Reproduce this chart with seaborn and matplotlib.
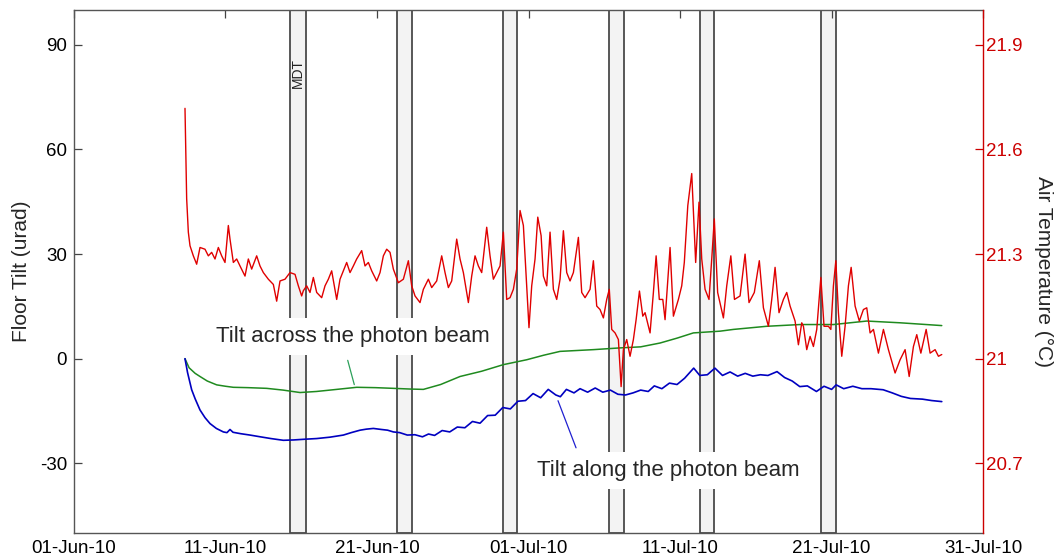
import numpy as np
import pandas as pd
import seaborn as sns
import matplotlib
matplotlib.use("Agg")
import matplotlib.pyplot as plt
import matplotlib.dates as mdates
from matplotlib.ticker import FuncFormatter

# days after 01-Jun-10 00:00
START = pd.Timestamp("2010-06-01")

# air temperature (deg C)
temp_day = [7.33, 7.44, 7.55, 7.66, 7.88, 8.10, 8.32, 8.65, 8.87, 9.09, 9.31, 9.53, 9.75, 9.97,
            10.19, 10.30, 10.52, 10.74, 10.96, 11.29, 11.51, 11.73, 12.06, 12.28, 12.50, 12.83,
            13.16, 13.38, 13.60, 13.93, 14.26, 14.59, 14.81, 15.03, 15.14, 15.36, 15.58, 15.80,
            16.02, 16.35, 16.57, 16.79, 17.01, 17.34, 17.56, 17.78, 18.00, 18.22, 18.44, 18.66,
            18.99, 19.21, 19.43, 19.65, 19.98, 20.20, 20.42, 20.64, 20.86, 21.08, 21.41, 21.74,
            22.07, 22.29, 22.51, 22.84, 23.06, 23.39, 23.61, 23.94, 24.27, 24.49, 24.71, 24.93,
            25.26, 25.48, 25.70, 26.03, 26.25, 26.47, 26.69, 26.91, 27.24, 27.46, 27.68, 27.90,
            28.12, 28.34, 28.56, 28.78, 29.00, 29.22, 29.44, 29.66, 29.88, 30.03, 30.21, 30.43,
            30.61, 30.83, 30.98, 31.20, 31.42, 31.64, 31.86, 32.08, 32.30, 32.52, 32.74, 32.96,
            33.29, 33.51, 33.73, 34.06, 34.28, 34.50, 34.72, 34.94, 35.16, 35.33, 35.49, 35.71,
            35.93, 36.11, 36.26, 36.48, 36.70, 36.92, 37.10, 37.32, 37.54, 37.69, 38.02, 38.24,
            38.42, 38.63, 38.86, 39.01, 39.34, 39.56, 39.89, 40.11, 40.28, 40.51, 40.77, 41.03,
            41.25, 41.43, 41.65, 41.91, 42.09, 42.26, 42.48, 42.86, 43.08, 43.35, 43.59, 43.96,
            44.29, 44.55, 44.90, 45.23, 45.50, 45.83, 46.05, 46.27, 46.53, 46.82, 47.04, 47.26,
            47.59, 47.81, 48.03, 48.14, 48.36, 48.58, 48.80, 49.02, 49.29, 49.50, 49.79, 49.95,
            50.12, 50.28, 50.45, 50.67, 50.89, 51.11, 51.29, 51.55, 51.83, 52.10, 52.32, 52.54,
            52.76, 53.09, 53.42, 53.75, 54.19, 54.52, 54.85, 55.12, 55.40, 55.62, 55.89, 56.24,
            56.50, 56.83, 57.05, 57.27]
temp_c = [21.718, 21.459, 21.363, 21.324, 21.295, 21.271, 21.319, 21.314, 21.295, 21.305, 21.286,
          21.319, 21.295, 21.276, 21.382, 21.343, 21.276, 21.286, 21.266, 21.237, 21.286, 21.257,
          21.295, 21.266, 21.247, 21.228, 21.213, 21.165, 21.223, 21.228, 21.247, 21.242, 21.209,
          21.180, 21.195, 21.209, 21.190, 21.233, 21.190, 21.175, 21.209, 21.228, 21.252, 21.170,
          21.228, 21.252, 21.276, 21.247, 21.266, 21.286, 21.310, 21.266, 21.276, 21.252, 21.223,
          21.247, 21.295, 21.314, 21.305, 21.257, 21.218, 21.228, 21.281, 21.209, 21.180, 21.161,
          21.199, 21.228, 21.204, 21.223, 21.295, 21.247, 21.204, 21.223, 21.343, 21.286, 21.247,
          21.161, 21.237, 21.295, 21.266, 21.247, 21.377, 21.295, 21.228, 21.247, 21.266, 21.363,
          21.170, 21.175, 21.199, 21.257, 21.425, 21.382, 21.209, 21.089, 21.209, 21.286, 21.406,
          21.353, 21.237, 21.209, 21.363, 21.199, 21.170, 21.228, 21.367, 21.247, 21.223, 21.247,
          21.348, 21.190, 21.175, 21.199, 21.281, 21.151, 21.141, 21.117, 21.170, 21.199, 21.084,
          21.074, 21.055, 20.920, 21.026, 21.055, 21.007, 21.055, 21.112, 21.194, 21.122, 21.132,
          21.074, 21.190, 21.295, 21.170, 21.170, 21.112, 21.319, 21.122, 21.170, 21.209, 21.276,
          21.439, 21.531, 21.276, 21.449, 21.286, 21.199, 21.170, 21.286, 21.401, 21.190, 21.117,
          21.209, 21.295, 21.170, 21.180, 21.300, 21.161, 21.190, 21.281, 21.146, 21.093, 21.170,
          21.262, 21.132, 21.170, 21.190, 21.151, 21.108, 21.040, 21.103, 21.093, 21.026, 21.064,
          21.035, 21.084, 21.233, 21.093, 21.093, 21.084, 21.209, 21.281, 21.132, 21.007, 21.093,
          21.209, 21.262, 21.151, 21.108, 21.141, 21.146, 21.074, 21.084, 21.016, 21.084, 21.026,
          20.959, 20.997, 21.026, 20.949, 21.035, 21.069, 21.016, 21.084, 21.016, 21.026, 21.007,
          21.012]

# tilt across the photon beam (urad), green trace
across_day = [7.33, 7.6, 8.0, 8.32, 8.8, 9.42, 10.0, 10.52, 11.5, 12.72, 13.8, 14.92, 16.0,
              17.12, 18.66, 19.9, 21.08, 22.2, 23.06, 24.2, 25.48, 26.9, 28.34, 29.88, 31.0,
              32.08, 34.28, 36.04, 37.4, 38.68, 39.8, 40.88, 42.64, 43.52, 45.72, 47.92, 50.12,
              52.32, 54.52, 55.9, 57.27]
across_urad = [0.0, -2.6, -4.2, -5.1, -6.4, -7.5, -7.9, -8.2, -8.3, -8.5, -9.0, -9.7, -9.4,
               -8.9, -8.2, -8.3, -8.5, -8.7, -8.8, -7.4, -5.1, -3.6, -1.7, -0.3, 1.0,
               2.1, 2.6, 3.1, 3.4, 4.5, 5.9, 7.4, 7.9, 8.4, 9.3, 9.8, 9.8,
               10.8, 10.3, 9.9, 9.5]

# tilt along the photon beam (urad), blue trace
along_day = [7.33, 7.5, 7.77, 8.0, 8.32, 8.65, 8.98, 9.4, 9.86, 10.1, 10.3, 10.5, 11.0, 11.62,
             12.3, 13.0, 13.82, 14.5, 15.2, 16.02, 16.9, 17.78, 18.3, 18.88, 19.3, 19.76, 20.3,
             20.7, 21.08, 21.5, 22.0, 22.5, 23.0, 23.4, 23.8, 24.3, 24.8, 25.3, 25.8, 26.3, 26.8,
             27.3, 27.8, 28.3, 28.8, 29.3, 29.8, 30.3, 30.8, 31.3, 31.8, 32.1, 32.5, 33.0, 33.4,
             33.9, 34.4, 34.9, 35.4, 35.9, 36.4, 36.9, 37.4, 37.9, 38.3, 38.8, 39.3, 39.8, 40.3,
             40.9, 41.3, 41.8, 42.3, 42.8, 43.3, 43.8, 44.3, 44.8, 45.3, 45.8, 46.4, 46.9, 47.4,
             47.9, 48.4, 49.0, 49.5, 50.0, 50.3, 50.8, 51.4, 52.0, 52.6, 53.4, 54.0, 54.6, 55.2,
             56.0, 56.6, 57.27]
along_urad = [0.0, -4.0, -8.9, -11.5, -14.7, -16.9, -18.6, -20.0, -21.0, -21.2, -20.3, -21.1,
              -21.5, -21.9, -22.4, -22.9, -23.4, -23.3, -23.1, -22.9, -22.5, -21.9, -21.2, -20.5,
              -20.2, -20.0, -20.3, -20.5, -21.0, -21.2, -21.9, -21.8, -22.4, -21.6, -22.0, -20.6,
              -21.0, -19.6, -19.8, -18.0, -18.5, -16.3, -16.2, -14.0, -14.4, -12.2, -12.0, -10.0,
              -11.2, -8.8, -10.4, -10.9, -8.8, -9.8, -8.6, -9.6, -8.4, -9.6, -9.0, -10.2, -10.4,
              -9.8, -9.0, -9.4, -7.8, -8.6, -7.0, -7.4, -5.6, -2.7, -4.8, -4.6, -2.7, -4.8, -3.8,
              -5.0, -4.2, -5.0, -4.6, -4.8, -3.7, -5.4, -6.4, -8.0, -7.8, -9.4, -7.9, -8.8, -7.5,
              -8.6, -7.9, -8.6, -8.6, -8.9, -9.8, -10.8, -11.4, -11.6, -12.0, -12.3]

# MDT periods (days after 01-Jun-10)
mdt_start = [14.26, 21.30, 28.34, 35.30, 41.30, 49.28]
mdt_end = [15.31, 22.33, 29.26, 36.28, 42.27, 50.30]


def to_time(days):
    return START + pd.to_timedelta(np.asarray(days, dtype=float), unit="D")


temp_df = pd.DataFrame({"time": to_time(temp_day), "value": temp_c})
across_df = pd.DataFrame({"time": to_time(across_day), "value": across_urad})
along_df = pd.DataFrame({"time": to_time(along_day), "value": along_urad})

sns.set_style("white")
plt.rcParams["font.family"] = ["Liberation Sans", "DejaVu Sans"]
plt.rcParams["axes.unicode_minus"] = False

fig = plt.figure(figsize=(10.56, 5.57), dpi=100)
ax = fig.add_axes([0.070, 0.043, 0.861, 0.939])
ax2 = ax.twinx()

for s, e in zip(mdt_start, mdt_end):
    ax.axvspan(to_time(s), to_time(e), facecolor="#f3f3f3", edgecolor="#4a4a4a",
               lw=1.3, zorder=0.5)
ax.text(to_time((mdt_start[0] + mdt_end[0]) / 2), 82, "MDT", rotation=90,
        ha="center", va="center", fontsize=10, color="#222222")

sns.lineplot(data=across_df, x="time", y="value", ax=ax, color="#1f8a1f", lw=1.1)
sns.lineplot(data=along_df, x="time", y="value", ax=ax, color="#0000c0", lw=1.2)
sns.lineplot(data=temp_df, x="time", y="value", ax=ax2, color="#e00000", lw=1.0)

box = dict(facecolor="white", edgecolor="none", boxstyle="square,pad=0.35")
ax.text(to_time(18.42), 6.3, "Tilt across the photon beam", fontsize=16,
        ha="center", va="center", bbox=box, zorder=3)
ax.text(to_time(39.2), -32.0, "Tilt along the photon beam", fontsize=16,
        ha="center", va="center", bbox=box, zorder=3)
ax.annotate("", xy=(to_time(18.55), -8.2), xytext=(to_time(18.02), 0.3),
            arrowprops=dict(arrowstyle="-", color="#2ca05a", lw=0.9), zorder=3)
ax.annotate("", xy=(to_time(31.88), -11.3), xytext=(to_time(33.2), -26.3),
            arrowprops=dict(arrowstyle="-", color="#2020d0", lw=0.9), zorder=3)

ax.set_xlim(to_time(0), to_time(60))
ax.set_ylim(-50, 100)
ax.set_yticks([-30, 0, 30, 60, 90])
ax.xaxis.set_major_locator(mdates.DayLocator(bymonthday=[1, 11, 21, 31]))
ax.xaxis.set_major_formatter(mdates.DateFormatter("%d-%b-%y"))
ax.set_xlabel("")
ax.set_ylabel("Floor Tilt (urad)", fontsize=15, labelpad=6)
ax.tick_params(axis="both", direction="in", length=6, width=0.9, color="#444444",
               labelsize=13.5, labelcolor="black", pad=5)
ax.tick_params(axis="x", top=True)

ax2.set_ylim(20.5, 22.0)
ax2.set_yticks([20.7, 21.0, 21.3, 21.6, 21.9])
ax2.yaxis.set_major_formatter(FuncFormatter(lambda v, p: "%g" % round(v, 2)))
ax2.set_ylabel("Air Temperature (\u00b0C)", fontsize=15, rotation=270, labelpad=22)
ax2.set_xlabel("")
ax2.tick_params(axis="y", direction="in", length=6, width=0.9, color="#cc0000",
                labelcolor="#cc0000", labelsize=13.5, pad=2)

for side in ["left", "top", "bottom"]:
    ax.spines[side].set_color("#555555")
    ax.spines[side].set_linewidth(1.0)
    ax2.spines[side].set_visible(False)
ax.spines["right"].set_visible(False)
ax2.spines["right"].set_color("#cc0000")
ax2.spines["right"].set_linewidth(1.0)

fig.savefig("out.png", dpi=100)
